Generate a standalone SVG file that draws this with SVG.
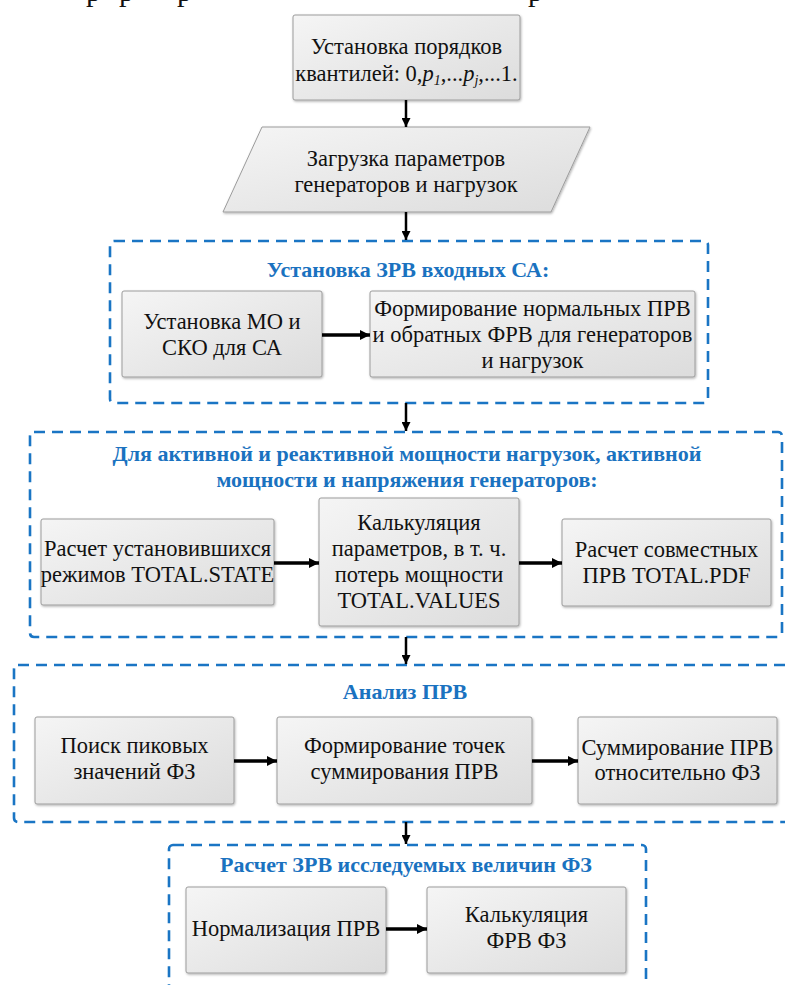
<svg xmlns="http://www.w3.org/2000/svg" width="785" height="985" viewBox="0 0 785 985" font-family="'Liberation Serif', 'Times New Roman', serif">
<style>
.bx{fill:url(#g);stroke:#9c9c9c;stroke-width:1;filter:url(#sh)}
.t{font-size:22.5px;fill:#111;text-anchor:middle}
.h{font-size:22px;font-weight:bold;fill:#1a72c0;text-anchor:middle}
.f{font-size:30px;fill:#111}
.d{fill:none;stroke:#1a75c4;stroke-width:2.6;stroke-dasharray:11 7}
.a{stroke:#000;stroke-width:3.5;fill:none;marker-end:url(#ah)}
.v{stroke:#000;stroke-width:2.5;fill:none;marker-end:url(#av)}
</style>
<defs>
<linearGradient id="g" x1="0" y1="0" x2="1" y2="1">
<stop offset="0" stop-color="#f5f5f5"/>
<stop offset="1" stop-color="#dcdcdc"/>
</linearGradient>
<filter id="sh" x="-5%" y="-5%" width="110%" height="115%">
<feDropShadow dx="0.8" dy="1.2" stdDeviation="0.8" flood-color="#000" flood-opacity="0.3"/>
</filter>
<marker id="ah" viewBox="0 0 10 10" markerUnits="userSpaceOnUse" markerWidth="12" markerHeight="10" refX="10" refY="5" orient="auto">
<path d="M0,0 L10,5 L0,10 z" fill="#000"/>
</marker>
<marker id="av" viewBox="0 0 10 10" markerUnits="userSpaceOnUse" markerWidth="11" markerHeight="9" refX="10" refY="5" orient="auto">
<path d="M0,0 L10,5 L0,10 z" fill="#000"/>
</marker>
</defs>
<rect width="785" height="985" fill="#fff"/>

<g id="page-fragment">
<text class="f" x="86" y="0.5">р</text>
<text class="f" x="119" y="0.5">р</text>
<text class="f" x="177" y="0.5">р</text>
<text class="f" x="528" y="0.5">р</text>
</g>

<g id="groups">
<rect id="grp1" class="d" x="110" y="241" width="598" height="162" rx="4"/>
<text class="h" x="408" y="277">Установка ЗРВ входных СА:</text>
<rect id="grp2" class="d" x="30" y="432" width="752" height="205" rx="4"/>
<text class="h" x="407" y="461" font-size="21.7">Для активной и реактивной мощности нагрузок, активной</text>
<text class="h" x="407" y="487" font-size="21.7">мощности и напряжения генераторов:</text>
<rect id="grp3" class="d" x="14" y="665" width="800" height="157" rx="4"/>
<text class="h" x="405" y="699">Анализ ПРВ</text>
<rect id="grp4" class="d" x="169" y="845" width="477" height="170" rx="4"/>
<text class="h" x="406" y="872">Расчет ЗРВ исследуемых величин ФЗ</text>
</g>

<g id="n1">
<rect class="bx" x="293" y="15" width="227" height="85" rx="2"/>
<text class="t" x="406.5" y="54">Установка порядков</text>
<text class="t" x="406.5" y="81">квантилей: 0,<tspan font-style="italic">p</tspan><tspan font-style="italic" font-size="14" dy="4">1</tspan><tspan dy="-4">,...</tspan><tspan font-style="italic">p</tspan><tspan font-style="italic" font-size="14" dy="4">j</tspan><tspan dy="-4">,...1.</tspan></text>
</g>
<g id="n2">
<polygon class="bx" points="262,127 590,127 551,212 223,212"/>
<text class="t" x="406" y="166">Загрузка параметров</text>
<text class="t" x="406" y="192">генераторов и нагрузок</text>
</g>
<g id="n3">
<rect class="bx" x="122" y="291" width="200" height="86" rx="2"/>
<text class="t" x="222" y="329">Установка МО и</text>
<text class="t" x="222" y="355">СКО для СА</text>
</g>
<g id="n4">
<rect class="bx" x="370" y="291" width="325" height="86" rx="2"/>
<text class="t" x="532.5" y="316">Формирование нормальных ПРВ</text>
<text class="t" x="532.5" y="342">и обратных ФРВ для генераторов</text>
<text class="t" x="532.5" y="368">и нагрузок</text>
</g>
<g id="n5">
<rect class="bx" x="41" y="519" width="233" height="86" rx="2"/>
<text class="t" x="157.5" y="556">Расчет установившихся</text>
<text class="t" x="157.5" y="582">режимов TOTAL.STATE</text>
</g>
<g id="n6">
<rect class="bx" x="319" y="498" width="200" height="128" rx="2"/>
<text class="t" x="419" y="530">Калькуляция</text>
<text class="t" x="419" y="556">параметров, в т. ч.</text>
<text class="t" x="419" y="582">потерь мощности</text>
<text class="t" x="419" y="608">TOTAL.VALUES</text>
</g>
<g id="n7">
<rect class="bx" x="562" y="519" width="209" height="87" rx="2"/>
<text class="t" x="666.5" y="557">Расчет совместных</text>
<text class="t" x="666.5" y="583">ПРВ TOTAL.PDF</text>
</g>
<g id="n8">
<rect class="bx" x="35" y="717" width="199" height="87" rx="2"/>
<text class="t" x="134.5" y="753">Поиск пиковых</text>
<text class="t" x="134.5" y="779">значений ФЗ</text>
</g>
<g id="n9">
<rect class="bx" x="277" y="717" width="255" height="87" rx="2"/>
<text class="t" x="404.5" y="753">Формирование точек</text>
<text class="t" x="404.5" y="779">суммирования ПРВ</text>
</g>
<g id="n10">
<rect class="bx" x="578" y="717" width="199" height="87" rx="2"/>
<text class="t" x="677.5" y="755">Суммирование ПРВ</text>
<text class="t" x="677.5" y="780">относительно ФЗ</text>
</g>
<g id="n11">
<rect class="bx" x="186" y="887" width="200" height="86" rx="2"/>
<text class="t" x="286" y="936">Нормализация ПРВ</text>
</g>
<g id="n12">
<rect class="bx" x="427" y="887" width="199" height="86" rx="2"/>
<text class="t" x="526.5" y="922">Калькуляция</text>
<text class="t" x="526.5" y="948">ФРВ ФЗ</text>
</g>

<g id="connectors">
<path class="v" d="M406,100 V127"/>
<path class="v" d="M406,212 V240"/>
<path class="v" d="M406,403 V431"/>
<path class="v" d="M406,637 V664"/>
<path class="v" d="M406,822 V844"/>
<path class="a" d="M322,335 H370"/>
<path class="a" d="M274,563 H319"/>
<path class="a" d="M519,563 H562"/>
<path class="a" d="M234,761 H277"/>
<path class="a" d="M532,761 H578"/>
<path class="a" d="M386,929 H427"/>
</g>
</svg>
